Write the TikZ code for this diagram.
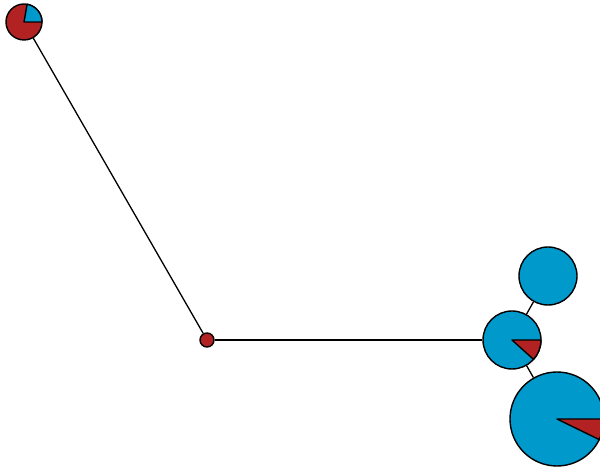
\documentclass[tikz,border=0pt]{standalone}
\usepackage{tikz}

\definecolor{pieRed}{RGB}{178,34,34}
\definecolor{pieBlue}{RGB}{0,153,204}

\tikzset{
  vertex/.style={circle, draw=black, line width=1.4pt, inner sep=0pt},
  wedge/.style={draw=black, line width=1.4pt, line join=round}
}

\begin{document}
\begin{tikzpicture}[x=1pt, y=1pt]

  %% ---- canvas ----
  \useasboundingbox (0,0) rectangle (600,468);
  \clip (0,0) rectangle (600,468);

  %% vertices
  \node[vertex, fill=pieRed, minimum size=36] (top) at (24,446) {};
  \node[vertex, fill=pieRed, minimum size=14] (hub) at (207,128) {};
  \node[vertex, fill=pieBlue, minimum size=58] (mid) at (512,128) {};
  \node[vertex, fill=pieBlue, minimum size=58] (upper) at (548,192) {};
  \node[vertex, fill=pieBlue, minimum size=94] (big) at (557,49) {};

  %% edges
  \draw[line width=1.3pt] (top) -- (hub);
  \draw[line width=1.3pt] (hub) -- (mid);
  \draw[line width=1.3pt] (mid) -- (upper);
  \draw[line width=1.3pt] (mid) -- (big);

  %% pie slices
  \draw[wedge, fill=pieBlue] (top.center) -- ++(0:18) arc (0:80:18) -- cycle;
  \draw[wedge, fill=pieRed] (mid.center) -- ++(-42:29) arc (-42:0:29) -- cycle;
  \draw[wedge, fill=pieRed] (big.center) -- ++(-26:47) arc (-26:0:47) -- cycle;

\end{tikzpicture}
\end{document}
